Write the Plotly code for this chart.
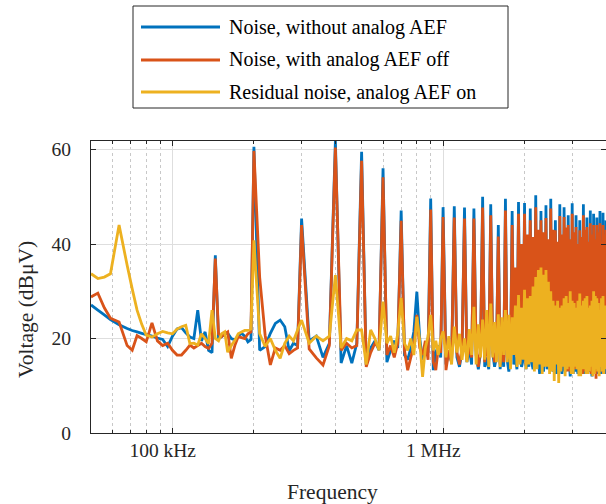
import math
import plotly.graph_objects as go

# ---------------- data (frequency in kHz, level in dBµV) ----------------
freq_low_khz = [50, 53, 56, 59, 63.5, 68, 71, 74, 77, 80, 84, 88, 92, 96, 100, 104, 108, 112,
                116, 120, 124, 128, 132, 136, 140, 144, 148, 152, 156, 160, 165, 170, 175, 180,
                185, 190, 195]
freq_mid_khz = [200, 210, 220, 230, 240, 250, 260, 270, 280, 290,
                300, 320, 340, 360, 380, 400, 420, 440, 460, 480,
                500, 520, 540, 560, 580, 600, 620, 640, 660, 680,
                700, 720, 740, 760, 780, 800, 820, 840, 860, 880,
                900, 920, 940, 960, 980]
freq_high_khz = [1000, 1025, 1050, 1075, 1100, 1125, 1150, 1175, 1200, 1225, 1250, 1275,
                 1300, 1325, 1350, 1375, 1400, 1425, 1450, 1475, 1500, 1525, 1550, 1575,
                 1600, 1625, 1650, 1675, 1700, 1725, 1750, 1775, 1800, 1825, 1850, 1875,
                 1900, 1925, 1950, 1975, 2000, 2025, 2050, 2075, 2100, 2125, 2150, 2175,
                 2200, 2225, 2250, 2275, 2300, 2325, 2350, 2375, 2400, 2425, 2450, 2475,
                 2500, 2525, 2550, 2575, 2600, 2625, 2650, 2675, 2700, 2725, 2750, 2775,
                 2800, 2825, 2850, 2875, 2900, 2925, 2950, 2975, 3000, 3025, 3050, 3075,
                 3100, 3125, 3150, 3175, 3200, 3225, 3250, 3275, 3300, 3325, 3350, 3375,
                 3400, 3425, 3450, 3475, 3500, 3525, 3550, 3575, 3600, 3625, 3650, 3675,
                 3700, 3725, 3750, 3775, 3800, 3825, 3850, 3875, 3900, 3925, 3950, 3975,
                 4000]

without_low = [27.1, 26.0, 25.0, 24.0, 22.9, 22.1, 21.7, 21.4, 21.1, 20.8, 20.5, 20.1, 19.8,
               18.3, 20.5, 22.0, 22.3, 21.2, 20.3, 20.0, 26.0, 19.5, 21.4, 17.5, 17.0, 37.6,
               20.0, 20.4, 21.0, 21.1, 20.0, 19.7, 20.5, 21.1, 20.5, 19.3, 19.8]
without_mid = [60.6, 17.5, 18.3, 21.1, 23.2, 23.9, 22.5, 17.4, 19.0, 18.5,
               45.4, 19.5, 20.5, 16.0, 19.0, 61.8, 14.8, 18.5, 14.8, 19.0,
               59.5, 14.4, 18.0, 19.5, 17.5, 56.0, 15.0, 17.5, 19.5, 18.0,
               47.1, 16.5, 15.5, 18.0, 21.5, 29.9, 20.0, 15.5, 18.5, 17.0,
               49.6, 13.3, 17.0, 18.5, 16.0]
without_high = [47.8, 14.5, 17.0, 15.0, 48.0, 16.0, 14.0, 17.5, 47.7, 15.0, 18.0, 14.5,
                47.5, 16.5, 13.5, 17.0, 50.0, 14.0, 16.0, 13.5, 48.4, 17.0, 14.0, 16.0,
                44.0, 13.5, 17.5, 14.0, 49.6, 15.5, 13.0, 16.5, 47.0, 14.5, 16.0, 13.5,
                48.9, 16.0, 14.0, 15.5, 48.7, 13.5, 16.5, 14.0, 47.5, 15.0, 13.5, 16.0,
                50.3, 14.0, 15.5, 12.5, 47.0, 15.5, 13.0, 16.0, 48.2, 13.5, 15.0, 14.0,
                49.6, 15.0, 13.0, 15.5, 45.0, 12.5, 15.5, 13.5, 48.4, 14.5, 12.5, 15.0,
                47.8, 13.0, 15.0, 13.5, 46.1, 15.5, 12.0, 14.5, 48.6, 12.5, 14.5, 13.0,
                46.1, 14.0, 12.5, 15.0, 45.0, 13.0, 15.5, 12.5, 48.4, 14.5, 12.5, 14.0,
                45.6, 12.5, 14.5, 13.0, 47.1, 14.0, 12.0, 14.5, 46.4, 13.0, 15.0, 12.5,
                45.6, 14.5, 12.5, 14.0, 47.0, 12.5, 14.0, 13.0, 46.6, 14.0, 12.5, 14.5,
                45.0]

off_low = [28.8, 29.6, 26.5, 24.3, 23.5, 18.5, 17.5, 20.6, 20.0, 19.3, 23.3, 19.5, 18.5,
           19.0, 17.5, 16.5, 16.5, 17.5, 18.6, 18.0, 18.5, 19.0, 18.3, 17.9, 19.0, 36.9,
           21.0, 20.4, 21.0, 21.4, 15.8, 18.5, 20.4, 20.2, 20.0, 21.0, 21.4]
off_mid = [59.7, 33.0, 20.7, 14.4, 18.0, 17.5, 18.5, 16.8, 17.5, 18.0,
           44.0, 17.8, 15.9, 14.4, 18.5, 60.4, 17.5, 19.0, 18.0, 18.5,
           57.6, 14.0, 17.0, 19.0, 18.0, 54.1, 16.5, 18.5, 16.0, 19.0,
           44.9, 17.5, 13.3, 16.0, 18.5, 25.0, 18.0, 16.5, 19.5, 15.5,
           47.3, 15.0, 13.3, 18.0, 17.0]
off_high = [45.7, 13.3, 17.5, 15.0, 45.6, 17.0, 14.5, 18.0, 45.4, 15.5, 18.5, 16.0,
            45.4, 17.5, 14.0, 18.0, 47.7, 15.0, 19.0, 15.5, 46.1, 18.0, 15.0, 17.0,
            41.6, 14.5, 18.5, 15.0, 47.1, 16.0, 19.5, 15.0, 44.0, 17.0, 35.0, 16.0,
            46.4, 15.0, 40.0, 16.5, 46.4, 14.5, 42.0, 15.5, 45.0, 16.0, 41.5, 14.0,
            47.8, 15.0, 43.0, 16.5, 45.0, 14.0, 42.5, 15.0, 45.5, 16.5, 41.0, 14.5,
            47.5, 14.0, 43.0, 16.0, 42.9, 15.5, 40.5, 13.5, 45.9, 13.5, 42.0, 15.5,
            45.7, 15.0, 43.5, 13.0, 44.0, 13.0, 41.0, 15.0, 46.4, 15.5, 42.5, 13.5,
            43.6, 13.5, 40.0, 15.5, 42.9, 15.0, 41.5, 12.5, 46.1, 13.0, 43.0, 14.5,
            43.6, 14.5, 40.5, 13.0, 44.4, 12.5, 42.0, 14.0, 44.0, 14.0, 41.0, 11.5,
            44.0, 13.0, 42.5, 14.5, 44.4, 14.5, 40.5, 13.0, 44.0, 12.5, 42.0, 14.0,
            43.0]

residual_low = [33.7, 32.7, 33.0, 33.7, 44.0, 35.5, 30.5, 26.0, 23.0, 20.7, 20.3, 21.0, 21.5,
                21.2, 21.0, 22.0, 22.5, 22.8, 18.9, 19.0, 18.6, 21.0, 20.0, 18.9, 26.0, 20.0,
                19.5, 21.0, 21.4, 17.1, 18.5, 19.6, 21.0, 21.4, 21.7, 21.7, 22.0]
residual_mid = [40.8, 21.0, 18.3, 20.0, 17.5, 15.8, 19.0, 20.5, 19.5, 21.8,
                23.9, 19.0, 20.5, 19.5, 20.5, 33.4, 18.0, 20.0, 19.5, 21.8,
                21.8, 14.5, 21.8, 20.0, 17.5, 27.8, 19.0, 20.5, 17.0, 21.0,
                28.6, 19.0, 17.5, 20.0, 16.5, 24.6, 19.5, 11.9, 18.0, 20.5,
                25.0, 17.5, 19.5, 16.5, 20.0]
residual_high = [21.5, 16.0, 20.5, 14.5, 22.5, 17.0, 21.0, 15.5, 20.0, 15.0, 22.0, 16.5,
                 26.7, 14.5, 23.0, 16.0, 24.0, 15.5, 26.0, 14.0, 27.4, 16.0, 23.5, 15.0,
                 25.1, 14.0, 24.5, 16.5, 26.0, 15.0, 25.0, 13.5, 24.5, 16.5, 27.0, 14.0,
                 29.2, 14.5, 26.5, 15.5, 30.3, 13.5, 28.5, 14.5, 29.0, 15.0, 31.0, 13.0,
                 33.0, 13.5, 34.5, 14.5, 35.0, 12.5, 33.5, 14.0, 34.5, 14.0, 32.0, 12.5,
                 30.0, 13.0, 28.0, 11.0, 27.0, 14.5, 28.0, 10.6, 26.5, 13.0, 27.0, 14.0,
                 28.5, 12.0, 29.0, 13.5, 27.5, 14.0, 30.0, 12.5, 28.0, 12.5, 27.5, 14.0,
                 26.5, 13.5, 28.0, 12.0, 29.5, 12.0, 27.0, 13.5, 28.0, 13.5, 28.5, 12.5,
                 29.0, 12.5, 26.5, 13.0, 27.0, 14.0, 28.0, 12.0, 30.0, 12.5, 29.0, 13.5,
                 28.5, 13.0, 27.5, 12.0, 26.0, 14.0, 28.5, 13.0, 29.0, 12.5, 27.0, 13.5,
                 27.0]

series_names = ["Noise, without analog AEF", "Noise, with analog AEF off",
                "Residual noise, analog AEF on"]
series_colors = ["#0072BD", "#D95319", "#EDB120"]

major_ticks_hz = [1e5, 1e6]
major_tick_labels = ["100 kHz", "1 MHz"]
minor_ticks_hz = [6e4, 7e4, 8e4, 9e4, 2e5, 3e5, 4e5, 5e5, 6e5, 7e5, 8e5, 9e5, 2e6, 3e6]
y_ticks = [0, 20, 40, 60]

# ---------------- build ----------------
freq_hz = [f * 1e3 for f in freq_low_khz + freq_mid_khz + freq_high_khz]
values = [without_low + without_mid + without_high,
          off_low + off_mid + off_high,
          residual_low + residual_mid + residual_high]

W, H = 606, 504
ML, MR, MT, MB = 91, 0, 141, 71
PW, PH = W - ML - MR, H - MT - MB
FONT = "Liberation Serif, Times New Roman, serif"
DARK = "#262626"


def px(x):
    return (x - ML) / PW


def py(y):
    return (H - MB - y) / PH


fig = go.Figure()
for name, vals, col in zip(series_names, values, series_colors):
    fig.add_trace(go.Scatter(x=freq_hz, y=vals, mode="lines", name=name,
                             line=dict(color=col, width=2.8, simplify=False),
                             showlegend=False, hoverinfo="skip"))

NB = "\u00a0"
fig.update_layout(
    width=W, height=H,
    margin=dict(l=ML, r=MR, t=MT, b=MB, pad=0),
    paper_bgcolor="white", plot_bgcolor="white",
    font=dict(family=FONT, size=19.5, color=DARK),
    xaxis=dict(type="log", range=[math.log10(50e3), math.log10(4.0e6)],
               tickmode="array", tickvals=major_ticks_hz,
               ticktext=[t + NB * 4 for t in major_tick_labels],
               ticks="inside", ticklen=5, tickcolor=DARK, tickwidth=1,
               showline=True, linecolor=DARK, linewidth=1, mirror="ticks",
               showgrid=True, gridcolor="#dedede", gridwidth=1, zeroline=False,
               tickfont=dict(family=FONT, size=19.5, color=DARK),
               minor=dict(tickmode="array", tickvals=minor_ticks_hz, ticks="inside",
                          ticklen=3, tickcolor=DARK, tickwidth=1, showgrid=True,
                          gridcolor="#c8c8c8", griddash="dot", gridwidth=1)),
    yaxis=dict(range=[0, 61.8], tickmode="array", tickvals=y_ticks,
               ticks="inside", ticklen=5, tickcolor=DARK, tickwidth=1,
               showline=True, linecolor=DARK, linewidth=1, mirror="ticks",
               showgrid=True, gridcolor="#dedede", gridwidth=1, zeroline=False,
               ticklabelstandoff=15,
               tickfont=dict(family=FONT, size=19.5, color=DARK)),
)

# axis titles
fig.add_annotation(text="Frequency", x=px(332), y=py(492), xref="paper", yref="paper",
                   showarrow=False, font=dict(family=FONT, size=21.5, color=DARK),
                   xanchor="center", yanchor="middle")
fig.add_annotation(text="Voltage (dBμV)", x=px(26), y=py(310), xref="paper", yref="paper",
                   showarrow=False, textangle=-90, font=dict(family=FONT, size=21.5, color=DARK),
                   xanchor="center", yanchor="middle")

# legend box (drawn)
fig.add_shape(type="rect", xref="paper", yref="paper",
              x0=px(133), x1=px(508), y0=py(108), y1=py(6),
              line=dict(color=DARK, width=1), fillcolor="white", layer="above")
row_y = [27, 60, 92]
for name, col, ry in zip(series_names, series_colors, row_y):
    fig.add_shape(type="line", xref="paper", yref="paper",
                  x0=px(141), x1=px(220), y0=py(ry), y1=py(ry),
                  line=dict(color=col, width=3), layer="above")
    fig.add_annotation(text=name, x=px(227), y=py(ry), xref="paper", yref="paper",
                       showarrow=False, xanchor="left", yanchor="middle",
                       font=dict(family=FONT, size=20, color="#000000"))

fig.write_html("out.html",
               config={"displayModeBar": False, "staticPlot": True},
               post_script="document.body.style.margin='0';"
                           "document.documentElement.style.overflow='hidden';")
